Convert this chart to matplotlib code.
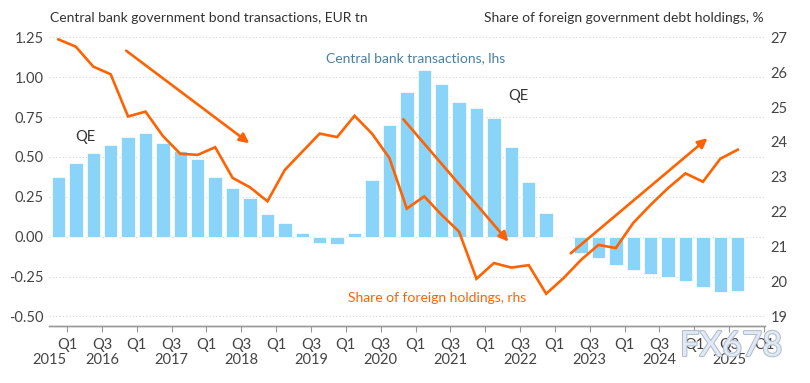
import matplotlib
matplotlib.use('Agg')
import matplotlib.pyplot as plt
import matplotlib.patheffects as pe
from matplotlib.transforms import blended_transform_factory
import numpy as np

# central bank government bond transactions, EUR tn (lhs), one bar per quarter
bank_tx = [0.372, 0.460, 0.527, 0.575, 0.623, 0.649, 0.586, 0.536, 0.490, 0.377,
           0.303, 0.243, 0.144, 0.088, 0.023, -0.038, -0.046, 0.023, 0.356, 0.699,
           0.904, 1.046, 0.958, 0.847, 0.808, 0.743, 0.565, 0.341, 0.151, -0.005,
           -0.100, -0.132, -0.178, -0.209, -0.236, -0.255, -0.278, -0.314, -0.345, -0.341]

# share of foreign government debt holdings, % (rhs)
foreign_share = [26.94, 26.73, 26.16, 25.94, 24.73, 24.87, 24.17, 23.66, 23.63, 23.85,
                 22.97, 22.70, 22.30, 23.20, 23.72, 24.24, 24.14, 24.75, 24.24, 23.54,
                 22.09, 22.44, 21.91, 21.43, 20.08, 20.53, 20.40, 20.47, 19.65, 20.10,
                 20.62, 21.05, 20.96, 21.68, 22.20, 22.68, 23.10, 22.86, 23.52, 23.78]

q_labels = ['Q1', 'Q3'] * 10 + ['Q1']
years = ['2015', '2016', '2017', '2018', '2019', '2020', '2021', '2022', '2023', '2024', '2025']

ORANGE = '#FF6200'
BLUE = '#8AD4FA'
GREY_TXT = '#444444'

plt.rcParams['font.family'] = ['Lato', 'DejaVu Sans']

fig = plt.figure(figsize=(8.1, 3.83), dpi=100)
ax = fig.add_axes([0.0609, 0.1496, 0.8835, 0.7614])
ax2 = ax.twinx()

x = np.arange(len(bank_tx))
ax.bar(x, bank_tx, width=0.77, color=BLUE, edgecolor='white', linewidth=0.5, zorder=2)
ax2.plot(x, foreign_share, color=ORANGE, lw=1.9, solid_joinstyle='miter', zorder=3)

ax.set_xlim(-0.52, 40.56)
ax.set_ylim(-0.558, 1.27)
ax2.set_ylim(18.735, 27.091)

ax.set_yticks(np.arange(-0.5, 1.26, 0.25))
ax.set_yticklabels(['%.2f' % v for v in np.arange(-0.5, 1.26, 0.25)])
ax2.set_yticks(range(19, 28))
ax.grid(axis='y', linestyle=(0, (1, 2)), color='#d4d4d4', lw=0.8)
ax.set_axisbelow(True)

ax.set_xticks(np.arange(0.5, 41, 2))
ax.set_xticklabels(q_labels)
ax.tick_params(axis='x', direction='out', length=4, color='#999999', width=0.8,
               labelsize=10.5, labelcolor=GREY_TXT, pad=5)
ax.tick_params(axis='y', length=0, labelsize=10.5, labelcolor=GREY_TXT, pad=4)
ax2.tick_params(axis='y', length=0, labelsize=10.5, labelcolor=GREY_TXT, pad=4)

for a in (ax, ax2):
    for s in ('top', 'left', 'right'):
        a.spines[s].set_visible(False)
    a.spines['bottom'].set_color('#999999')
    a.spines['bottom'].set_linewidth(1)

trans = blended_transform_factory(ax.transData, ax.transAxes)
year_pos = [-0.5] + [2.5 + 4 * k for k in range(10)]
for xp, yr in zip(year_pos, years):
    ax.text(xp, -0.118, yr, transform=trans, ha='center', va='center',
            fontsize=10.5, color=GREY_TXT)

# trend arrows
arrows = [((3.89, 1.166), (10.96, 0.586)),
          ((19.8, 0.736), (25.83, -0.031)),
          ((29.41, -0.104), (37.26, 0.617))]
for start, end in arrows:
    ax.annotate('', xy=end, xytext=start,
                arrowprops=dict(arrowstyle='-|>', color=ORANGE, lw=1.9,
                                mutation_scale=14, shrinkA=0, shrinkB=0),
                zorder=4)

ax.text(1.53, 0.627, 'QE', ha='center', va='center', fontsize=10.5, color='#333333')
ax.text(26.4, 0.884, 'QE', ha='center', va='center', fontsize=10.5, color='#333333')
ax.text(20.53, 1.118, 'Central bank transactions, lhs', ha='center', va='center',
        fontsize=10, color='#4A7FA0')
ax.text(21.72, -0.382, 'Share of foreign holdings, rhs', ha='center', va='center',
        fontsize=10, color=ORANGE)

fig.text(50 / 810, 1 - 18.3 / 383, 'Central bank government bond transactions, EUR tn',
         ha='left', va='center', fontsize=10, color='#333333')
fig.text(764 / 810, 1 - 18.3 / 383, 'Share of foreign government debt holdings, %',
         ha='right', va='center', fontsize=10, color='#333333')

# site watermark sitting over the bottom-right corner
fig.text(731 / 810, 1 - 346 / 383, 'FX678', ha='center', va='center', fontsize=25,
         color='#dfeaf6',
         path_effects=[pe.withStroke(linewidth=1.5, foreground='#b4bdc8')])

fig.savefig('out.png', dpi=100)
